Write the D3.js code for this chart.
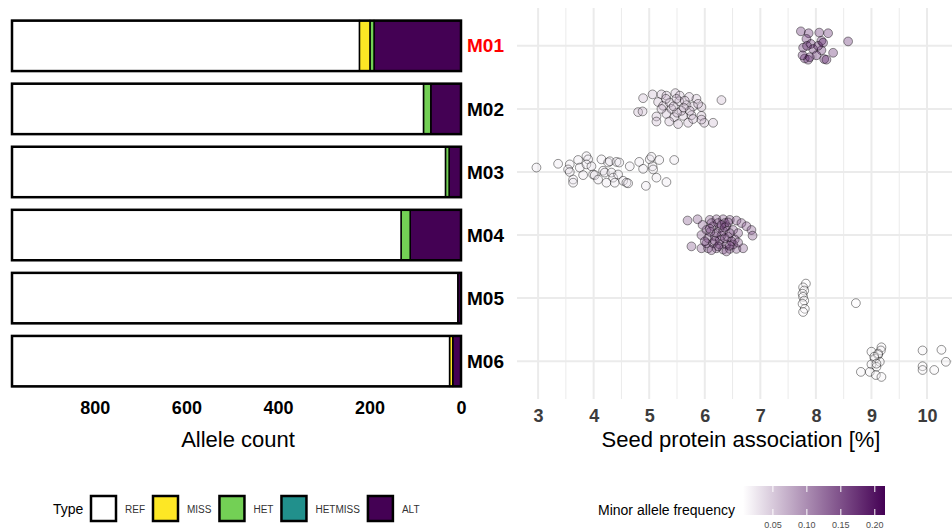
<!DOCTYPE html>
<html>
<head>
	<meta charset="utf-8">
	<title>Allele counts and seed protein association</title>
	<style>
		body {
			margin: 0;
			background: white;
			font-family: 'Liberation Sans', Arial, sans-serif;
		}
		svg {
			display: block;
		}
	</style>
</head>
<body>
	<svg width="952" height="530"></svg>
</body>
<script src="https://d3js.org/d3.v7.min.js"></script>
<script>

	// markers and genotype counts per marker (left panel)
	let markers = ['M01', 'M02', 'M03', 'M04', 'M05', 'M06']
	let refCount = [759, 899, 947, 850, 974, 956]
	let missCount = [23, 0, 0, 0, 0, 7]
	let hetCount = [9, 16, 8, 20, 0, 0]
	let hetmissCount = [0, 0, 0, 0, 0, 0]
	let altCount = [190, 66, 26, 111, 7, 18]
	let countTicks = [0, 200, 400, 600, 800]

	let typeKeys = ['REF', 'MISS', 'HET', 'HETMISS', 'ALT']
	let typeColors = ['#ffffff', '#fde725', '#73d055', '#21908c', '#440154']

	// minor allele frequency per marker
	let maf = [0.20, 0.07, 0.03, 0.16, 0.01, 0.02]
	let mafTicks = [0.05, 0.10, 0.15, 0.20]

	// seed protein association per accession: [value, jitter]
	let effM01 = [[7.73, -0.23], [7.87, -0.20], [8.06, -0.21], [8.22, -0.20], [8.58, -0.07], [7.83, -0.11],
		[7.91, -0.03], [8.10, -0.08], [7.77, 0.03], [7.95, 0.05], [8.10, 0.07], [8.31, 0.11], [7.80, 0.20],
		[7.86, 0.22], [8.01, 0.15], [8.15, 0.21], [8.19, 0.22], [8.04, 0.00], [7.84, 0.00], [8.13, -0.05],
		[7.89, 0.18], [7.76, 0.15]]
	let effM02 = [[4.89, -0.17], [5.06, -0.23], [5.22, -0.23], [5.31, -0.21], [5.47, -0.25], [5.55, -0.21],
		[5.72, -0.19], [5.85, -0.16], [6.30, -0.14], [4.80, 0.05], [4.88, 0.04], [5.16, -0.11], [5.25, -0.05],
		[5.37, -0.10], [5.54, -0.12], [5.67, -0.06], [5.79, -0.04], [5.94, -0.03], [5.13, 0.12], [5.31, 0.08],
		[5.45, 0.13], [5.61, 0.11], [5.76, 0.10], [5.94, 0.11], [5.13, 0.20], [5.36, 0.20], [5.52, 0.24],
		[5.70, 0.22], [5.99, 0.22], [6.15, 0.22], [5.40, 0.00], [5.58, 0.03], [5.73, 0.03], [5.49, -0.16],
		[5.64, -0.13], [5.88, -0.08], [5.22, 0.00], [5.30, -0.16], [5.79, 0.16], [5.94, 0.17], [5.50, 0.06],
		[5.62, -0.02], [5.44, -0.04]]
	let effM03 = [[2.97, -0.07], [3.36, -0.13], [3.57, -0.12], [3.54, -0.04], [3.57, 0.00], [3.63, 0.12],
		[3.63, 0.17], [3.72, -0.19], [3.75, -0.07], [3.81, 0.05], [3.87, -0.25], [3.90, -0.20], [3.87, -0.12],
		[3.96, -0.09], [3.99, 0.04], [4.02, 0.05], [4.08, 0.12], [4.14, -0.20], [4.17, -0.02], [4.20, 0.01],
		[4.23, 0.17], [4.26, -0.15], [4.29, -0.17], [4.32, 0.01], [4.35, 0.09], [4.38, 0.17], [4.41, -0.16],
		[4.44, 0.04], [4.46, -0.15], [4.53, 0.14], [4.59, 0.17], [4.62, 0.18], [4.65, -0.09], [4.82, -0.16],
		[4.89, -0.05], [4.94, 0.22], [5.01, -0.20], [5.04, -0.24], [5.06, -0.09], [5.07, -0.04], [5.13, 0.09],
		[5.18, -0.19], [5.31, 0.16], [5.45, -0.19]]
	let effM04 = [[5.69, -0.23], [5.87, -0.25], [5.96, -0.16], [6.09, -0.24], [6.21, -0.25], [6.33, -0.25],
		[6.45, -0.24], [6.57, -0.23], [6.66, -0.19], [6.75, -0.14], [6.84, -0.08], [6.86, 0.01], [5.94, 0.00],
		[6.03, -0.08], [6.15, -0.14], [6.27, -0.11], [6.39, -0.14], [6.51, -0.08], [6.60, -0.03], [6.06, 0.05],
		[6.18, 0.02], [6.30, 0.01], [6.42, 0.03], [6.54, 0.07], [5.76, 0.18], [5.94, 0.21], [6.06, 0.21],
		[6.21, 0.21], [6.33, 0.23], [6.45, 0.22], [6.57, 0.22], [6.69, 0.21], [6.03, 0.13], [6.15, 0.13],
		[6.27, 0.15], [6.39, 0.15], [6.51, 0.15], [6.21, -0.03], [6.33, -0.06], [6.45, -0.03], [6.12, -0.19],
		[6.24, -0.19], [6.36, -0.19], [6.39, 0.26], [6.10, -0.05], [6.48, 0.10], [6.27, 0.08], [6.00, 0.10],
		[6.36, -0.12], [6.60, 0.12], [6.12, 0.24], [6.42, -0.20], [6.18, 0.09], [6.30, -0.16], [6.45, 0.17],
		[6.09, -0.10], [6.36, 0.05], [6.24, 0.18]]
	let effM05 = [[7.82, -0.23], [7.77, -0.17], [7.79, -0.12], [7.76, -0.07], [7.77, -0.02], [7.79, 0.04],
		[7.76, 0.09], [7.80, 0.17], [7.77, 0.22], [8.72, 0.08]]
	let effM06 = [[9.18, -0.22], [9.17, -0.17], [9.00, -0.15], [9.12, -0.10], [9.06, -0.04], [9.15, 0.01],
		[9.00, 0.05], [9.09, 0.09], [8.81, 0.17], [8.97, 0.17], [9.08, 0.22], [9.18, 0.25], [9.12, -0.12],
		[9.05, -0.07], [9.92, -0.17], [10.26, -0.18], [10.34, 0.01], [9.92, 0.08], [9.92, 0.14], [10.13, 0.14],
		[9.09, 0.04]]
	let effects = [effM01, effM02, effM03, effM04, effM05, effM06]
	let proteinTicks = [3, 4, 5, 6, 7, 8, 9, 10]

	let width = 952
	let height = 530
	let svg = d3.select('svg')

	// shared vertical position of the markers
	let yPos = d3.scalePoint()
		.domain(markers)
		.range([8, 399])
		.padding(0.6)
	let step = yPos.step()

	// ---------- left panel: stacked allele counts ----------
	let total = refCount[0] + missCount[0] + hetCount[0] + hetmissCount[0] + altCount[0]

	let xCount = d3.scaleLinear()
		.domain([0, total])
		.range([461, 12])

	let countRows = markers.map((m, i) => ({
		marker: m,
		REF: refCount[i],
		MISS: missCount[i],
		HET: hetCount[i],
		HETMISS: hetmissCount[i],
		ALT: altCount[i]
	}))

	// ALT sits next to zero, REF fills the rest
	let stacked = d3.stack()
		.keys(['ALT', 'HETMISS', 'HET', 'MISS', 'REF'])(countRows)

	let typeColor = d3.scaleOrdinal()
		.domain(typeKeys)
		.range(typeColors)

	let barH = step * 0.8

	let left = svg.append('g')

	left.selectAll('.layer')
		.data(stacked)
		.join('g')
		.attr('class', 'layer')
		.style('fill', d => typeColor(d.key))
		.selectAll('rect')
		.data(d => d.filter(s => s[1] - s[0] > 0))
		.join('rect')
		.attr('x', d => xCount(d[1]))
		.attr('width', d => xCount(d[0]) - xCount(d[1]))
		.attr('y', d => yPos(d.data.marker) - barH / 2)
		.attr('height', barH)
		.style('stroke', 'black')
		.style('stroke-width', 1.5)

	// outline around each full bar
	left.selectAll('.outline')
		.data(countRows)
		.join('rect')
		.attr('class', 'outline')
		.attr('x', xCount(total))
		.attr('width', xCount(0) - xCount(total))
		.attr('y', d => yPos(d.marker) - barH / 2)
		.attr('height', barH)
		.style('fill', 'none')
		.style('stroke', 'black')
		.style('stroke-width', 2.5)

	let leftAxis = svg.append('g')
		.attr('transform', 'translate(0,399)')
		.call(d3.axisBottom(xCount).tickValues(countTicks).tickSize(0).tickPadding(2))
	leftAxis.select('.domain').remove()
	leftAxis.selectAll('text')
		.style('font-family', 'Liberation Sans, Arial, sans-serif')
		.style('font-size', '18px')
		.style('font-weight', 'bold')
		.style('fill', 'black')

	svg.append('text')
		.attr('x', 238)
		.attr('y', 447)
		.attr('text-anchor', 'middle')
		.style('font-size', '22px')
		.style('fill', 'black')
		.text('Allele count')

	// marker names between the panels
	svg.append('g')
		.selectAll('text')
		.data(markers)
		.join('text')
		.attr('x', 467)
		.attr('y', d => yPos(d))
		.attr('dy', '0.35em')
		.style('font-size', '19px')
		.style('font-weight', 'bold')
		.style('fill', d => d == 'M01' ? '#ff0000' : 'black')
		.text(d => d)

	// ---------- right panel: protein association ----------
	let xProt = d3.scaleLinear()
		.domain([2.62, 10.45])
		.range([517, 952])

	let grid = svg.append('g')

	grid.selectAll('.minor')
		.data(proteinTicks.map(t => t + 0.5))
		.join('line')
		.attr('x1', d => xProt(d))
		.attr('x2', d => xProt(d))
		.attr('y1', 8)
		.attr('y2', 399)
		.style('stroke', '#ebebeb')
		.style('stroke-width', 1)

	grid.selectAll('.major')
		.data(proteinTicks)
		.join('line')
		.attr('x1', d => xProt(d))
		.attr('x2', d => xProt(d))
		.attr('y1', 8)
		.attr('y2', 399)
		.style('stroke', '#ebebeb')
		.style('stroke-width', 2)

	grid.selectAll('.hline')
		.data(markers)
		.join('line')
		.attr('x1', 517)
		.attr('x2', width)
		.attr('y1', d => yPos(d))
		.attr('y2', d => yPos(d))
		.style('stroke', '#ebebeb')
		.style('stroke-width', 2)

	let mafColor = d3.scaleLinear()
		.domain([0.006, 0.215])
		.range(['#ffffff', '#440154'])
		.interpolate(d3.interpolateRgb)

	let pointRows = []
	effects.forEach((arr, i) => {
		arr.forEach(p => {
			pointRows.push({ marker: markers[i], value: p[0], jitter: p[1], maf: maf[i] })
		})
	})

	svg.append('g')
		.selectAll('circle')
		.data(pointRows)
		.join('circle')
		.attr('cx', d => xProt(d.value))
		.attr('cy', d => yPos(d.marker) + d.jitter * step)
		.attr('r', 4.4)
		.style('fill', d => mafColor(d.maf))
		.style('fill-opacity', 0.32)
		.style('stroke', 'black')
		.style('stroke-opacity', 0.42)
		.style('stroke-width', 1)

	let rightAxis = svg.append('g')
		.attr('transform', 'translate(0,399)')
		.call(d3.axisBottom(xProt).tickValues(proteinTicks).tickSize(0).tickPadding(10))
	rightAxis.select('.domain').remove()
	rightAxis.selectAll('text')
		.style('font-family', 'Liberation Sans, Arial, sans-serif')
		.style('font-size', '18px')
		.style('font-weight', 'bold')
		.style('fill', '#3c3c3c')

	svg.append('text')
		.attr('x', 741)
		.attr('y', 447)
		.attr('text-anchor', 'middle')
		.style('font-size', '22px')
		.style('fill', 'black')
		.text('Seed protein association [%]')

	// ---------- legends ----------
	let typeLegend = svg.append('g')

	typeLegend.append('text')
		.attr('x', 53)
		.attr('y', 514)
		.style('font-size', '14px')
		.style('fill', 'black')
		.text('Type')

	let kx = 91
	typeKeys.forEach(k => {
		typeLegend.append('rect')
			.attr('x', kx)
			.attr('y', 496)
			.attr('width', 25)
			.attr('height', 25)
			.style('fill', typeColor(k))
			.style('stroke', 'black')
			.style('stroke-width', 2.5)
		let lab = typeLegend.append('text')
			.attr('x', kx + 34)
			.attr('y', 513)
			.style('font-size', '10px')
			.style('fill', '#333')
			.text(k)
		kx = kx + 34 + lab.node().getComputedTextLength() + 8
	})

	// colour bar for minor allele frequency
	let cbX = d3.scaleLinear()
		.domain(mafColor.domain())
		.range([743, 885])

	let grad = svg.append('defs')
		.append('linearGradient')
		.attr('id', 'mafGrad')
	grad.append('stop').attr('offset', '0%').attr('stop-color', mafColor(0.006))
	grad.append('stop').attr('offset', '100%').attr('stop-color', mafColor(0.215))

	svg.append('rect')
		.attr('x', 743)
		.attr('y', 486)
		.attr('width', 142)
		.attr('height', 29)
		.style('fill', 'url(#mafGrad)')

	svg.append('g')
		.selectAll('line')
		.data(mafTicks.flatMap(t => [[t, 486, 492], [t, 509, 515]]))
		.join('line')
		.attr('x1', d => cbX(d[0]))
		.attr('x2', d => cbX(d[0]))
		.attr('y1', d => d[1])
		.attr('y2', d => d[2])
		.style('stroke', 'white')
		.style('stroke-width', 1)

	svg.append('g')
		.selectAll('text')
		.data(mafTicks)
		.join('text')
		.attr('x', d => cbX(d))
		.attr('y', 528)
		.attr('text-anchor', 'middle')
		.style('font-size', '9px')
		.style('fill', '#4d4d4d')
		.text(d => d3.format('.2f')(d))

	svg.append('text')
		.attr('x', 598)
		.attr('y', 515)
		.style('font-size', '14px')
		.style('fill', 'black')
		.text('Minor allele frequency')

</script>
</html>
